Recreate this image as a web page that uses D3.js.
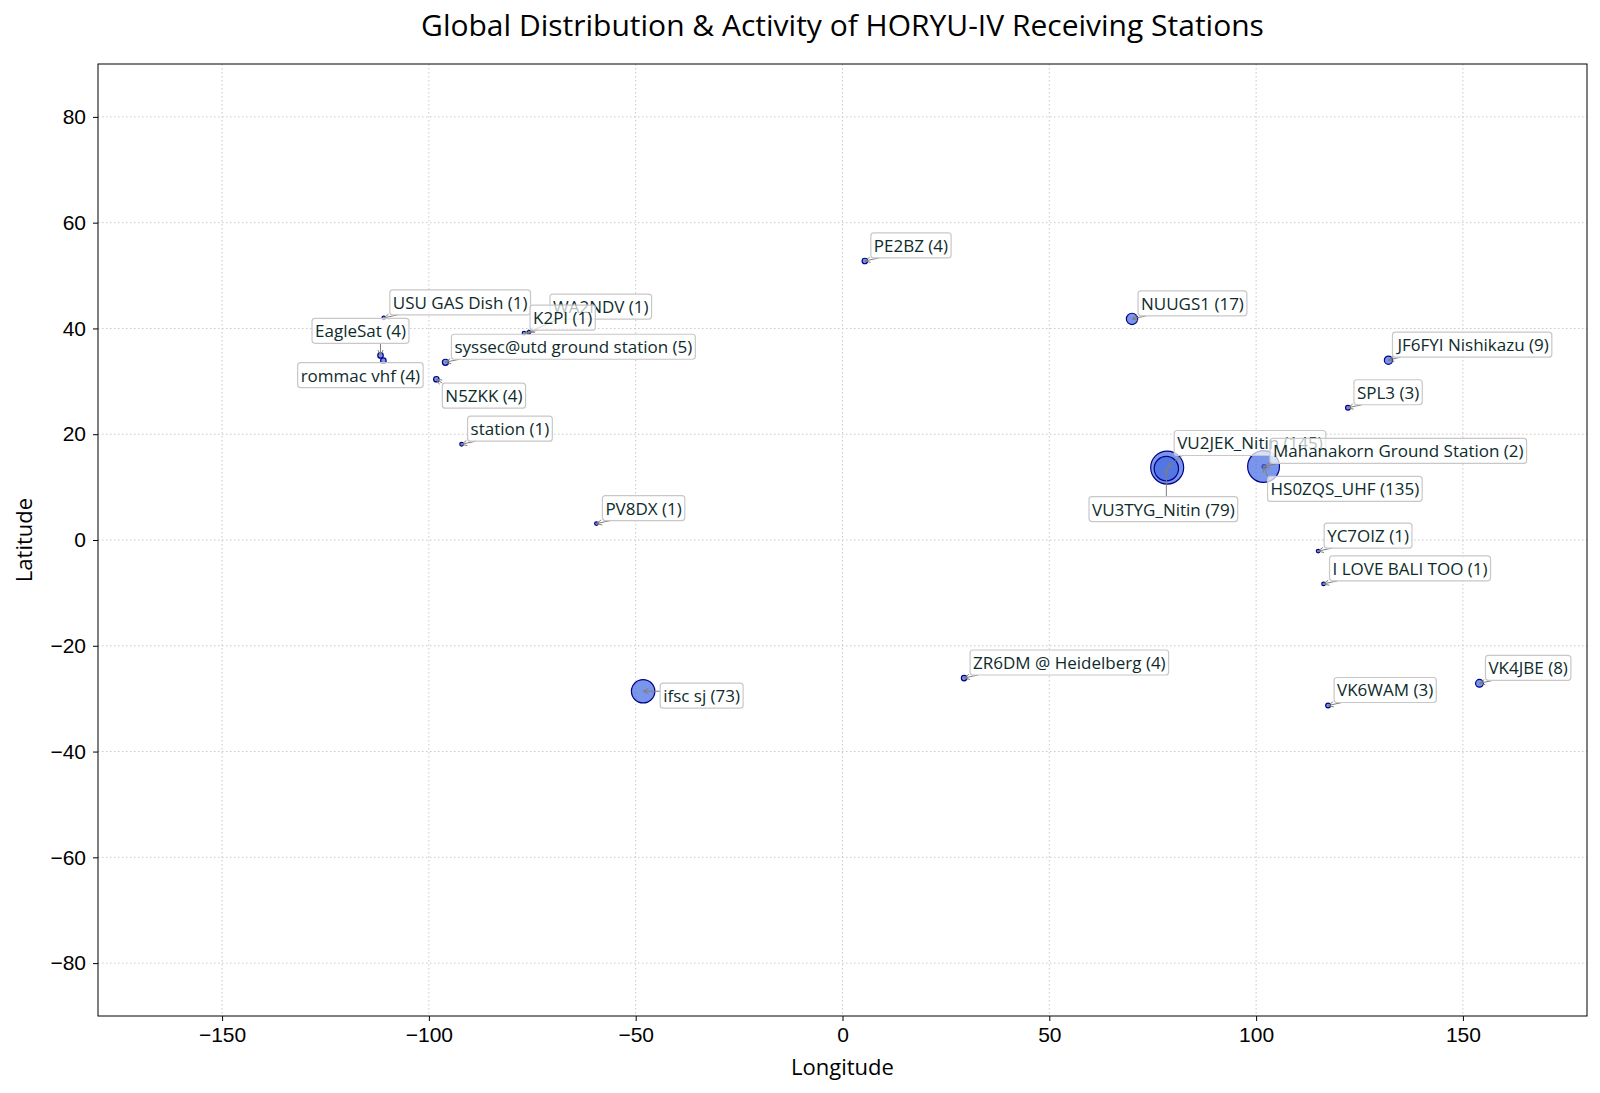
<!DOCTYPE html>
<html>
<head>
<meta charset="utf-8">
<script src="https://cdn.jsdelivr.net/npm/d3@7"></script>
<style>
  body { margin: 0; background: #fff; }
  svg { font-family: "Open Sans", "Noto Sans", sans-serif; }
  .grid line { stroke: #c8c8c8; stroke-dasharray: 1.5 2.5; }
  .axis text { font-size: 21px; fill: #000; }
  .axis path, .axis line { stroke: #000; }
  .tag text { font-size: 17px; fill: #0d2b2b; }
</style>
</head>
<body>
<div id="chart"></div>
<script>
"use strict"

// Station data
const stations = ["PE2BZ", "USU GAS Dish", "WA2NDV", "K2PI", "EagleSat", "syssec@utd ground station",
  "rommac vhf", "N5ZKK", "station", "PV8DX", "ifsc sj", "ZR6DM @ Heidelberg", "NUUGS1",
  "JF6FYI Nishikazu", "SPL3", "VU2JEK_Nitin", "Mahanakorn Ground Station", "HS0ZQS_UHF",
  "VU3TYG_Nitin", "YC7OIZ", "I LOVE BALI TOO", "VK4JBE", "VK6WAM"];
const longitudes = [5.4, -110.9, -75.8, -77.0, -111.7, -96.0,
  -111.0, -98.2, -92.1, -59.5, -48.2, 29.4, 70.0,
  132.0, 122.2, 78.5, 101.9, 101.8,
  78.3, 115.0, 116.3, 154.0, 117.4];
const latitudes = [52.75, 42.0, 39.3, 39.1, 34.9, 33.6,
  33.9, 30.4, 18.1, 3.1, -28.6, -26.1, 41.8,
  34.0, 25.0, 13.7, 13.9, 13.9,
  13.5, -2.1, -8.3, -27.1, -31.3];
const packets = [4, 1, 1, 1, 4, 5,
  4, 4, 1, 1, 73, 4, 17,
  9, 3, 145, 2, 135,
  79, 1, 1, 8, 3];

const xTicks = [-150, -100, -50, 0, 50, 100, 150];
const yTicks = [-80, -60, -40, -20, 0, 20, 40, 60, 80];

// Label placement (pixel offset of label text from its point), default up-right
const labelPlace = {
  "EagleSat": {dx: -20, dy: -24, anchor: "middle"},
  "rommac vhf": {dx: -23, dy: 15, anchor: "middle"},
  "N5ZKK": {dx: 9, dy: 17},
  "ifsc sj": {dx: 20, dy: 5},
  "VU2JEK_Nitin": {dx: 10, dy: -24},
  "HS0ZQS_UHF": {dx: 7, dy: 23},
  "VU3TYG_Nitin": {dx: -3, dy: 41, anchor: "middle"},
  "WA2NDV": {dx: 24, dy: -25}
};

const data = stations.map((s, i) => ({
  name: s, lon: longitudes[i], lat: latitudes[i], count: packets[i]
}));

const width = 1600;
const height = 1093;
const margin = {top: 64, right: 13, bottom: 77, left: 98};

const svg = d3.select("#chart").append("svg")
  .attr("width", width)
  .attr("height", height);

const x = d3.scaleLinear().domain([-180, 180]).range([margin.left, width - margin.right]);
const y = d3.scaleLinear().domain([-90, 90]).range([height - margin.bottom, margin.top]);
const r = d3.scaleSqrt().domain([0, 145]).range([0, 16.5]);

// Grid
const grid = svg.append("g").attr("class", "grid");
grid.selectAll("line.v").data(xTicks).enter().append("line")
  .attr("x1", d => x(d)).attr("x2", d => x(d))
  .attr("y1", margin.top).attr("y2", height - margin.bottom);
grid.selectAll("line.h").data(yTicks).enter().append("line")
  .attr("x1", margin.left).attr("x2", width - margin.right)
  .attr("y1", d => y(d)).attr("y2", d => y(d));

const fmt = d => d < 0 ? "\u2212" + Math.abs(d) : d;

// Axes
svg.append("g")
  .attr("class", "axis")
  .attr("transform", `translate(0,${height - margin.bottom})`)
  .call(d3.axisBottom(x).tickValues(xTicks).tickSize(5).tickPadding(6).tickFormat(fmt))
  .call(g => g.select(".domain").remove());

svg.append("g")
  .attr("class", "axis")
  .attr("transform", `translate(${margin.left},0)`)
  .call(d3.axisLeft(y).tickValues(yTicks).tickSize(5).tickPadding(7).tickFormat(fmt))
  .call(g => g.select(".domain").remove());

// Frame
svg.append("rect")
  .attr("x", margin.left).attr("y", margin.top)
  .attr("width", width - margin.left - margin.right)
  .attr("height", height - margin.top - margin.bottom)
  .attr("fill", "none").attr("stroke", "#000").attr("stroke-width", 1);

// Titles
svg.append("text")
  .attr("x", (margin.left + width - margin.right) / 2)
  .attr("y", 36)
  .attr("text-anchor", "middle")
  .style("font-size", "30px")
  .text("Global Distribution & Activity of HORYU-IV Receiving Stations");

svg.append("text")
  .attr("x", (margin.left + width - margin.right) / 2)
  .attr("y", 1075)
  .attr("text-anchor", "middle")
  .style("font-size", "22px")
  .text("Longitude");

svg.append("text")
  .attr("transform", `translate(32,${(margin.top + height - margin.bottom) / 2}) rotate(-90)`)
  .attr("text-anchor", "middle")
  .style("font-size", "22px")
  .text("Latitude");

// Points
svg.append("g").selectAll("circle")
  .data(data).enter().append("circle")
    .attr("cx", d => x(d.lon))
    .attr("cy", d => y(d.lat))
    .attr("r", d => Math.max(r(d.count), 1.8))
    .attr("fill", "#4169e1")
    .attr("fill-opacity", 0.7)
    .attr("stroke", "#00008b")
    .attr("stroke-width", 1.2);

// Labels with arrows
const arrows = svg.append("g");
const tags = svg.append("g").attr("class", "tag");

data.forEach(d => {
  const p = labelPlace[d.name] || {dx: 9, dy: -15};
  const px = x(d.lon), py = y(d.lat);
  const g = tags.append("g");
  const t = g.append("text")
    .attr("x", px + p.dx)
    .attr("y", py + p.dy)
    .attr("dy", "0.35em")
    .attr("text-anchor", p.anchor || "start")
    .text(`${d.name} (${d.count})`);
  const bb = t.node().getBBox();
  const pad = 3;
  const box = {x: bb.x - pad, y: bb.y - pad + 2, w: bb.width + 2 * pad, h: bb.height + 2 * pad - 4};
  g.insert("rect", "text")
    .attr("x", box.x).attr("y", box.y)
    .attr("width", box.w).attr("height", box.h)
    .attr("rx", 3)
    .attr("fill", "#fff").attr("fill-opacity", 0.7)
    .attr("stroke", "#c8c8c8").attr("stroke-width", 1.2);

  // arrow from box edge (nearest point to marker) toward the marker
  const sx = Math.max(box.x, Math.min(px, box.x + box.w));
  const sy = Math.max(box.y, Math.min(py, box.y + box.h));
  const ex = px, ey = py;
  const len = Math.hypot(ex - sx, ey - sy);
  if (len < 2) return;
  // arrow starts a bit along the box edge, like the reference
  const sx2 = sx + (sx === box.x && sy === box.y + box.h ? 8 : 0);
  const a = arrows.append("g").attr("stroke", "#7f7f7f").attr("fill", "none").attr("stroke-width", 1);
  a.append("line").attr("x1", sx2).attr("y1", sy).attr("x2", ex).attr("y2", ey);
  const ang = Math.atan2(ey - sy, ex - sx2);
  const h = 6, w = 0.45;
  a.append("path")
    .attr("d", `M${ex - h * Math.cos(ang - w)},${ey - h * Math.sin(ang - w)}L${ex},${ey}L${ex - h * Math.cos(ang + w)},${ey - h * Math.sin(ang + w)}`);
});
</script>
</body>
</html>
